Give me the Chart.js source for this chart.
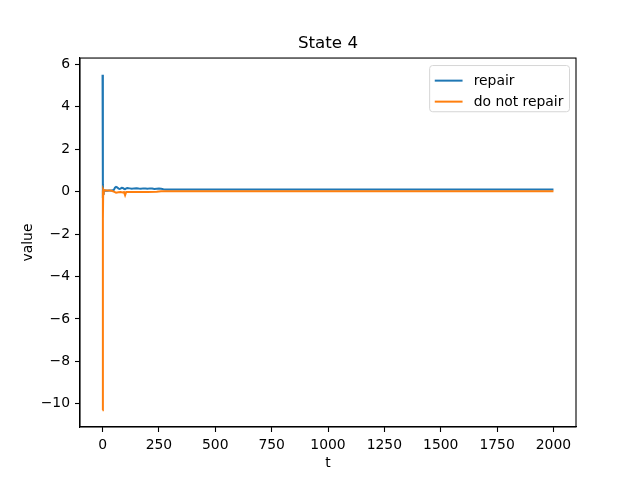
<!DOCTYPE html>
<html>
<head>
<meta charset="utf-8">
<script src="https://cdn.jsdelivr.net/npm/chart.js@4.4.1/dist/chart.umd.min.js"></script>
<style>
  html, body { margin: 0; padding: 0; background: #ffffff; }
  canvas { display: block; }
</style>
</head>
<body>
<canvas id="chart" width="640" height="480"></canvas>
<script>
/* --- Data --- */
const tRepair = [0, 1, 2, 3, 4, 6, 10, 20, 30, 40, 50, 55, 60, 65, 70, 75, 80, 85, 90, 95,
  100, 105, 110, 120, 130, 140, 150, 160, 170, 180, 190, 200, 210, 220, 230, 240, 250,
  260, 270, 280, 300, 350, 2000];
const vRepair = [5.5, -0.3, 0.35, -0.1, 0.08, 0.03, 0.05, 0.04, 0.05, 0.05, 0.08, 0.18, 0.22,
  0.2, 0.15, 0.12, 0.14, 0.18, 0.17, 0.13, 0.11, 0.15, 0.17, 0.15, 0.13, 0.15, 0.16, 0.14,
  0.13, 0.15, 0.14, 0.13, 0.15, 0.14, 0.12, 0.13, 0.14, 0.13, 0.11, 0.1, 0.1, 0.1, 0.1];

const tNoRepair = [0, 1, 2, 3, 5, 10, 20, 30, 40, 50, 60, 70, 80, 90, 95, 100, 105, 110,
  130, 150, 200, 240, 260, 280, 300, 2000];
const vNoRepair = [-10.3, 0.05, -1.3, 0.1, 0.05, 0.06, 0.05, 0.05, 0.04, 0.0, -0.05, -0.03,
  -0.02, -0.04, -0.02, -0.17, -0.02, -0.02, -0.02, -0.02, -0.02, -0.01, 0.01, 0.02, 0.02, 0.02];

const seriesLabels = ['repair', 'do not repair'];
const xTicks = [0, 250, 500, 750, 1000, 1250, 1500, 1750, 2000];
const yTicks = [-10, -8, -6, -4, -2, 0, 2, 4, 6];

/* --- matplotlib-like look --- */
const FONT = "'DejaVu Sans', sans-serif";
const BLUE = '#1f77b4';
const ORANGE = '#ff7f0e';

function toPoints(ts, vs) {
  return ts.map((t, i) => ({ x: t, y: vs[i] }));
}

// 5% margins like matplotlib autoscale
const allT = tRepair.concat(tNoRepair);
const allV = vRepair.concat(vNoRepair);
const tMin = Math.min(...allT), tMax = Math.max(...allT);
const vMin = Math.min(...allV), vMax = Math.max(...allV);
const tPad = (tMax - tMin) * 0.05, vPad = (vMax - vMin) * 0.05;

function fmt(v) {
  return String(v).replace('-', '\u2212');
}

/* --- frame + legend plugin --- */
const framePlugin = {
  id: 'frame',
  afterDraw(chart) {
    const { ctx, chartArea: a } = chart;
    ctx.save();

    // legend box, top-right inside the axes
    const fs = 13.9;
    ctx.font = fs + 'px ' + FONT;
    const labels = chart.data.datasets.map(d => d.label);
    const textW = Math.max(...labels.map(l => ctx.measureText(l).width));
    const pad = 5.6, handle = 27.8, gap = 11.1, rowH = 21;
    const w = pad * 2 + handle + gap + textW;
    const h = pad * 2 + rowH * labels.length - 7;
    const x0 = a.right - 7 - w;
    const y0 = a.top + 7;

    ctx.beginPath();
    ctx.roundRect(x0 + 0.5, y0 + 0.5, w, h, 3);
    ctx.fillStyle = 'rgba(255,255,255,0.8)';
    ctx.fill();
    ctx.strokeStyle = '#d6d6d6';
    ctx.lineWidth = 1;
    ctx.stroke();

    chart.data.datasets.forEach((d, i) => {
      const cy = y0 + pad + 5 + i * rowH + 5;
      ctx.beginPath();
      ctx.moveTo(x0 + pad, cy);
      ctx.lineTo(x0 + pad + handle, cy);
      ctx.strokeStyle = d.borderColor;
      ctx.lineWidth = 2;
      ctx.stroke();
      ctx.fillStyle = '#000000';
      ctx.textBaseline = 'middle';
      ctx.textAlign = 'left';
      ctx.fillText(d.label, x0 + pad + handle + gap, cy + 1);
    });

    // axes spines
    ctx.strokeStyle = '#000000';
    ctx.lineWidth = 1.1;
    ctx.strokeRect(a.left, a.top, a.right - a.left, a.bottom - a.top);
    ctx.restore();
  }
};

const ctx = document.getElementById('chart');

new Chart(ctx, {
  type: 'line',
  data: {
    datasets: [{
      label: seriesLabels[0],
      data: toPoints(tRepair, vRepair),
      borderColor: BLUE,
      backgroundColor: BLUE,
      borderWidth: 2,
      pointRadius: 0,
      tension: 0,
      order: 1
    }, {
      label: seriesLabels[1],
      data: toPoints(tNoRepair, vNoRepair),
      borderColor: ORANGE,
      backgroundColor: ORANGE,
      borderWidth: 2,
      pointRadius: 0,
      tension: 0,
      order: 0
    }]
  },
  options: {
    responsive: false,
    animation: false,
    events: [],
    layout: {
      padding: { left: 0, right: 64, top: 34, bottom: 0 }
    },
    plugins: {
      legend: { display: false },
      tooltip: { enabled: false },
      title: {
        display: true,
        text: 'State 4',
        fullSize: false,
        color: '#000000',
        font: { family: FONT, size: 16.7, weight: 'normal' },
        padding: { top: 0, bottom: 4 }
      }
    },
    scales: {
      x: {
        type: 'linear',
        min: tMin - tPad,
        max: tMax + tPad,
        afterBuildTicks: scale => { scale.ticks = xTicks.map(v => ({ value: v })); },
        afterFit: scale => { scale.height = 53; },
        grid: {
          drawOnChartArea: false,
          drawTicks: true,
          tickLength: 5,
          tickWidth: 1.1,
          tickColor: '#000000'
        },
        border: { display: true, color: '#000000', width: 1.1 },
        ticks: {
          autoSkip: false,
          maxRotation: 0,
          padding: 5,
          color: '#000000',
          font: { family: FONT, size: 13.9 },
          callback: v => fmt(v)
        },
        title: {
          display: true,
          text: 't',
          color: '#000000',
          font: { family: FONT, size: 13.9 },
          padding: { top: 0, bottom: 8 }
        }
      },
      y: {
        type: 'linear',
        min: vMin - vPad,
        max: vMax + vPad,
        afterBuildTicks: scale => { scale.ticks = yTicks.map(v => ({ value: v })); },
        afterFit: scale => { scale.width = 80; },
        grid: {
          drawOnChartArea: false,
          drawTicks: true,
          tickLength: 5,
          tickWidth: 1.1,
          tickColor: '#000000'
        },
        border: { display: true, color: '#000000', width: 1.1 },
        ticks: {
          autoSkip: false,
          padding: 5,
          color: '#000000',
          font: { family: FONT, size: 13.9 },
          callback: v => fmt(v)
        },
        title: {
          display: true,
          text: 'value',
          color: '#000000',
          font: { family: FONT, size: 13.9 },
          padding: { top: 20, bottom: 0 }
        }
      }
    }
  },
  plugins: [framePlugin]
});
</script>
</body>
</html>
